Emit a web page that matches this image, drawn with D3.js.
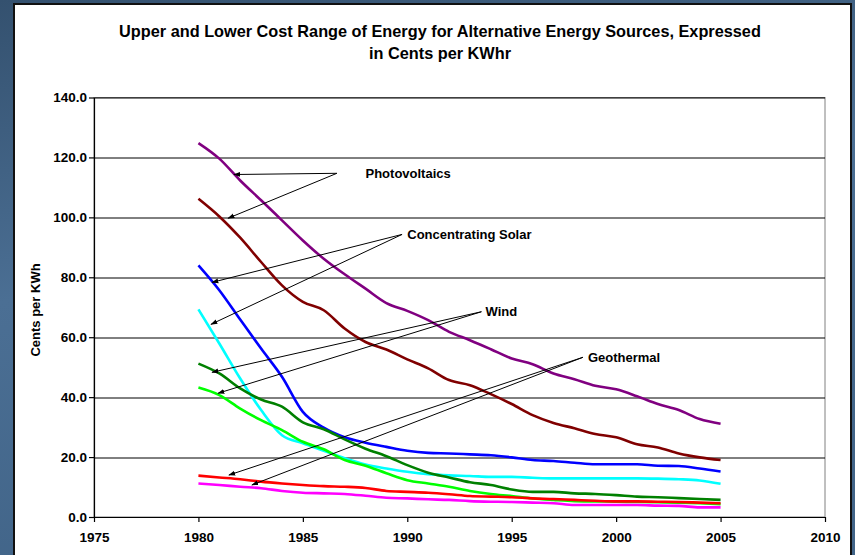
<!DOCTYPE html>
<html>
<head>
<meta charset="utf-8">
<script src="https://cdn.jsdelivr.net/npm/d3@7"></script>
<style>
  html, body { margin: 0; padding: 0; }
  body { width: 855px; height: 555px; overflow: hidden; }
  text { font-family: "Liberation Sans", Arial, sans-serif; font-weight: bold; fill: #000; }
  .grid line { stroke: #000; stroke-width: 1; }
  .axis path, .axis line { stroke: #000; }
</style>
</head>
<body>
<div id="chart"></div>
<script>
var years = [1980, 1981, 1982, 1983, 1984, 1985, 1986, 1987, 1988, 1989, 1990, 1991, 1992,
    1993, 1994, 1995, 1996, 1997, 1998, 1999, 2000, 2001, 2002, 2003, 2004, 2005];

var pvUpper = [124.8, 119.6, 112.3, 105.7, 99.0, 92.3, 86.2, 81.0, 76.2, 71.4, 68.8, 65.7, 61.8,
    59.0, 56.0, 52.9, 51.0, 47.9, 46.0, 43.8, 42.6, 40.3, 37.7, 35.7, 32.7, 31.1];
var pvLower = [106.2, 100.3, 93.2, 85.1, 77.3, 71.8, 69.0, 62.9, 58.4, 55.9, 52.6, 49.6, 45.7,
    44.0, 41.0, 37.7, 34.0, 31.4, 29.6, 27.7, 26.6, 24.3, 23.2, 21.2, 19.9, 19.0];
var cspUpper = [84.0, 75.7, 65.9, 56.2, 46.8, 35.1, 29.8, 26.6, 24.8, 23.4, 22.1, 21.4, 21.2,
    20.9, 20.6, 19.9, 19.0, 18.7, 18.1, 17.6, 17.6, 17.6, 17.1, 17.0, 16.2, 15.2];
var cspLower = [69.3, 57.9, 46.2, 35.7, 27.3, 24.6, 22.1, 19.6, 17.5, 16.2, 15.1, 14.3, 13.9,
    13.7, 13.4, 13.4, 13.1, 12.9, 12.9, 12.9, 12.9, 12.9, 12.8, 12.6, 12.2, 11.1];
var windUpper = [51.2, 47.9, 42.9, 39.2, 36.8, 31.6, 29.3, 25.9, 22.8, 20.3, 17.3, 14.8, 13.2,
    11.6, 10.7, 9.2, 8.4, 8.4, 7.9, 7.7, 7.3, 6.8, 6.6, 6.3, 6.0, 5.7];
var windLower = [43.2, 40.7, 36.2, 32.3, 29.0, 25.1, 22.6, 19.0, 17.1, 14.6, 12.3, 11.2, 10.1,
    8.7, 7.7, 7.0, 6.2, 5.7, 5.3, 5.2, 5.1, 5.0, 4.9, 4.8, 4.6, 4.3];
var geoUpper = [13.8, 13.2, 12.6, 11.8, 11.2, 10.7, 10.3, 10.1, 9.7, 8.7, 8.4, 8.1, 7.6,
    7.0, 6.8, 6.6, 6.2, 6.0, 5.7, 5.4, 5.2, 5.2, 5.1, 5.0, 4.8, 4.6];
var geoLower = [11.2, 10.7, 10.1, 9.6, 8.7, 8.1, 7.9, 7.7, 7.1, 6.4, 6.2, 5.9, 5.7,
    5.3, 5.1, 5.0, 4.8, 4.6, 4.0, 4.0, 4.0, 4.0, 3.8, 3.7, 3.2, 3.2];

var seriesList = [pvUpper, pvLower, cspUpper, cspLower, windUpper, windLower, geoUpper, geoLower];
var seriesColors = ["#800080", "#800000", "#0000ff", "#00ffff", "#008000", "#00ff00", "#ff0000", "#ff00ff"];

var xTicks = [1975, 1980, 1985, 1990, 1995, 2000, 2005, 2010];
var yTicks = [0, 20, 40, 60, 80, 100, 120, 140];

// callouts: label anchor and the two arrow heads, in chart units (year, cents)
var calloutLabels = ["Photovoltaics", "Concentrating Solar", "Wind", "Geothermal"];
var calloutYears = [1986.63, 1989.75, 1993.55, 1998.41];
var calloutValues = [114.7, 94.3, 68.5, 53.3];
var calloutTextYears = [1988.0, 1990.0, 1993.75, 1998.65];
var arrowYears = [[1981.70, 1981.42], [1980.65, 1980.60], [1980.65, 1980.94], [1981.46, 1982.56]];
var arrowValues = [[114.3, 99.7], [78.3, 64.3], [48.3, 41.3], [14.0, 10.7]];

var W = 855, H = 555;
var margin = {left: 94, top: 97.5, right: 30, bottom: 38};
var width = 825 - margin.left;
var height = 517 - margin.top;

var svg = d3.select("#chart").append("svg").attr("width", W).attr("height", H);

var defs = svg.append("defs");
var bg = defs.append("linearGradient").attr("id", "bg")
    .attr("x1", "0").attr("y1", "0").attr("x2", "0.3").attr("y2", "1");
bg.append("stop").attr("offset", "0").attr("stop-color", "#34516f");
bg.append("stop").attr("offset", "0.5").attr("stop-color", "#4b6f94");
bg.append("stop").attr("offset", "1").attr("stop-color", "#416488");

defs.append("marker")
    .attr("id", "head")
    .attr("viewBox", "0 0 10 10")
    .attr("refX", 9).attr("refY", 5)
    .attr("markerWidth", 7).attr("markerHeight", 7)
    .attr("markerUnits", "userSpaceOnUse")
    .attr("orient", "auto")
    .append("path").attr("d", "M0,1.5 L10,5 L0,8.5 Z").attr("fill", "#000");

svg.append("rect").attr("width", W).attr("height", H).attr("fill", "url(#bg)");
svg.append("rect")
    .attr("x", 14).attr("y", 4).attr("width", 837).attr("height", 570)
    .attr("fill", "#fff").attr("stroke", "#111").attr("stroke-width", 2);

svg.append("text").attr("x", 440).attr("y", 37).attr("text-anchor", "middle")
    .style("font-size", "16.3px").text("Upper and Lower Cost Range of Energy for Alternative Energy Sources, Expressed");
svg.append("text").attr("x", 440).attr("y", 59).attr("text-anchor", "middle")
    .style("font-size", "16.3px").text("in Cents per KWhr");

var x = d3.scaleLinear().domain([1975, 2010]).range([0, width]);
var y = d3.scaleLinear().domain([0, 140]).range([height, 0]);

var chartGroup = svg.append("g").attr("transform", "translate(" + margin.left + "," + margin.top + ")");

chartGroup.append("rect").attr("width", width).attr("height", height)
    .attr("fill", "none").attr("stroke", "#808080");

chartGroup.append("g").attr("class", "grid")
    .selectAll("line").data(yTicks.slice(1)).enter().append("line")
    .attr("x1", 0).attr("x2", width)
    .attr("y1", function (d) { return Math.round(y(d)) + 0.5; })
    .attr("y2", function (d) { return Math.round(y(d)) + 0.5; });

var xAxis = d3.axisBottom(x).tickValues(xTicks).tickFormat(d3.format("d")).tickSize(5).tickSizeOuter(0).tickPadding(10);
var yAxis = d3.axisLeft(y).tickValues(yTicks).tickFormat(d3.format(".1f")).tickSize(5).tickSizeOuter(0).tickPadding(2);

chartGroup.append("g").attr("class", "axis x")
    .attr("transform", "translate(0," + height + ")")
    .call(xAxis);
chartGroup.append("g").attr("class", "axis y").call(yAxis);

chartGroup.selectAll(".axis text").style("font-size", "13.5px").style("font-family", "Liberation Sans, Arial, sans-serif");
chartGroup.selectAll(".axis path, .axis line").attr("stroke-width", 1.2);

var line = d3.line()
    .curve(d3.curveMonotoneX)
    .x(function (d, i) { return x(years[i]); })
    .y(function (d) { return y(d); });

seriesList.forEach(function (s, k) {
    chartGroup.append("path")
        .attr("d", line(s))
        .attr("fill", "none")
        .attr("stroke", seriesColors[k])
        .attr("stroke-width", 2.6)
        .attr("stroke-linejoin", "round");
});

calloutLabels.forEach(function (label, k) {
    arrowYears[k].forEach(function (yr, j) {
        chartGroup.append("line")
            .attr("x1", x(calloutYears[k])).attr("y1", y(calloutValues[k]))
            .attr("x2", x(yr)).attr("y2", y(arrowValues[k][j]))
            .attr("stroke", "#000").attr("stroke-width", 1)
            .attr("marker-end", "url(#head)");
    });
    chartGroup.append("text")
        .attr("x", x(calloutTextYears[k]))
        .attr("y", y(calloutValues[k]))
        .attr("dy", "0.35em")
        .style("font-size", "13px")
        .text(label);
});

svg.append("text")
    .attr("transform", "translate(40,310) rotate(-90)")
    .attr("text-anchor", "middle")
    .style("font-size", "13px")
    .text("Cents per KWh");
</script>
</body>
</html>
